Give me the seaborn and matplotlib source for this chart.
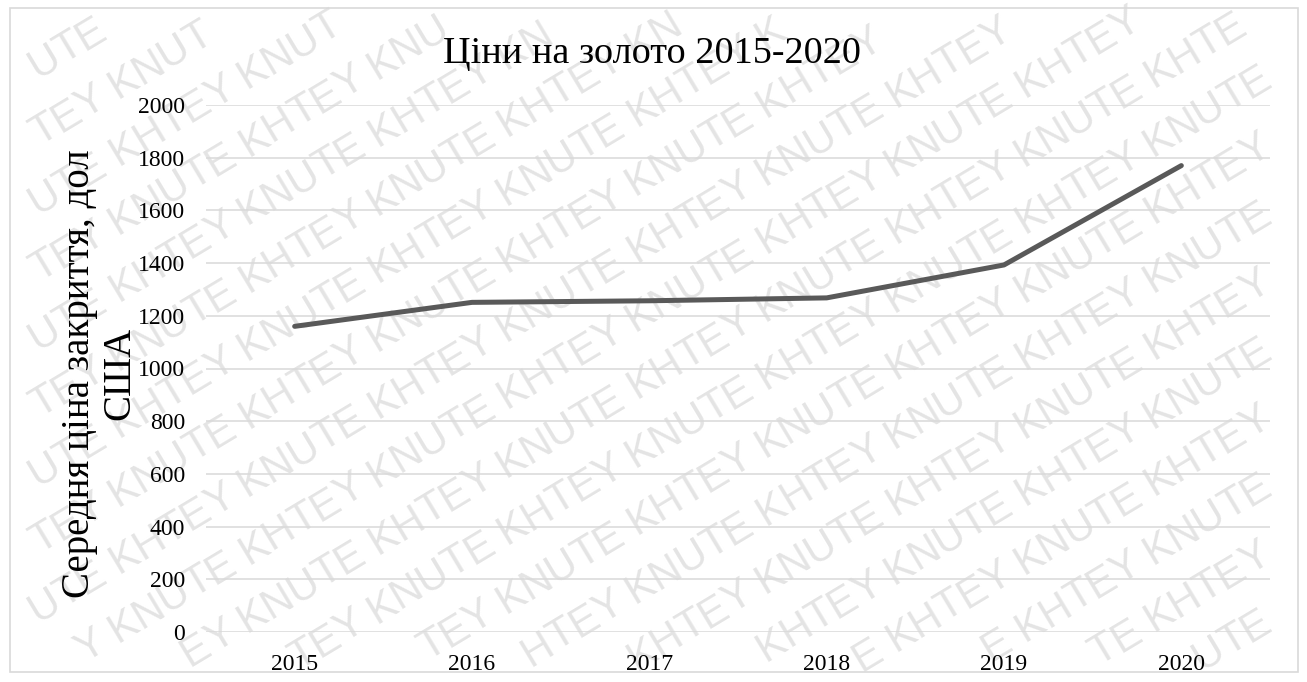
import matplotlib
matplotlib.use("Agg")
import matplotlib.pyplot as plt
from matplotlib.patches import Rectangle
from matplotlib.font_manager import FontProperties
import seaborn as sns
import pandas as pd
import math

years = ["2015", "2016", "2017", "2018", "2019", "2020"]
prices = [1160, 1251, 1257, 1268, 1393, 1770]
y_ticks = [0, 200, 400, 600, 800, 1000, 1200, 1400, 1600, 1800, 2000]
title = "Ціни на золото 2015-2020"
ylabel = "Середня ціна закриття, дол\nСША"
wm_unit = "KNUTE KHTEY "

sns.set_theme(style="white")
plt.rcParams["font.family"] = ["Liberation Serif", "DejaVu Serif"]

W, H = 1307, 682
fig = plt.figure(figsize=(W / 100, H / 100), dpi=100)
fig.patch.set_facecolor("white")
rend = fig.canvas.get_renderer()

# watermark, letter by letter; letters crossing the figure edge are dropped
wm_size = 30
prop = FontProperties(family="Liberation Sans", size=wm_size)


def tw(s):
    return rend.get_text_width_height_descent(s, prop, ismath=False)[0]


wK = tw("K")
offs = []
for k, c in enumerate(wm_unit):
    offs.append(tw(wm_unit[:k] + "K") - wK if k > 0 else 0.0)
unit_w = tw(wm_unit + "K") - wK

ang = 31
ca, sa = math.cos(math.radians(ang)), math.sin(math.radians(ang))
wm_texts = []
for i in range(-34, 14):
    bx, by = -400.0, i * 68.0
    phase = -(i % 2) * 0.5 * unit_w
    rep = 0
    done = False
    while not done:
        for k, c in enumerate(wm_unit):
            s = phase + rep * unit_w + offs[k]
            px = bx + s * ca
            py = by + s * sa
            if px > W + 60:
                done = True
                break
            if c != " " and -60 < px < W + 10 and -60 < py < H + 10:
                t = fig.text(px / W, py / H, c, rotation=ang,
                             rotation_mode="anchor", ha="left", va="baseline",
                             fontsize=wm_size, color="#e4e4e4",
                             family=["Liberation Sans"], zorder=-5)
                wm_texts.append(t)
        rep += 1

# frame
fig.patches.append(Rectangle((10 / W, (H - 672) / H), (1298 - 10) / W, (672 - 8) / H,
                             transform=fig.transFigure, fill=False,
                             edgecolor="#d9d9d9", linewidth=1.2, zorder=-4))

ax = fig.add_axes([206 / W, (H - 632) / H, (1270 - 206) / W, (632 - 105) / H])
ax.set_facecolor("none")

df = pd.DataFrame({"year": years, "price": prices})
sns.lineplot(data=df, x="year", y="price", ax=ax, color="#595959",
             linewidth=3.6, sort=False, zorder=3)

ax.set_xlim(-0.5, len(years) - 0.5)
ax.set_ylim(0, 2000)
ax.set_yticks(y_ticks)
ax.set_yticklabels([str(v) for v in y_ticks])
ax.yaxis.grid(True, color="#d9d9d9", linewidth=1.1)
ax.xaxis.grid(False)
for s_ in ax.spines.values():
    s_.set_visible(False)
ax.tick_params(axis="both", length=0, labelsize=17, colors="black")
ax.tick_params(axis="y", pad=15)
ax.tick_params(axis="x", pad=16)
ax.set_xlabel("")
ax.set_ylabel(ylabel, fontsize=28, color="black", linespacing=1.12)
ax.yaxis.set_label_coords(-0.064, 0.49)

fig.text(652 / W, (H - 54) / H, title, ha="center", va="center",
         fontsize=27.5, color="black")

fig.canvas.draw()
r = fig.canvas.get_renderer()
for t in wm_texts:
    bb = t.get_window_extent(r)
    if bb.x0 < 0 or bb.y0 < 0 or bb.x1 > W or bb.y1 > H:
        t.remove()

fig.savefig("out.png", dpi=100)
